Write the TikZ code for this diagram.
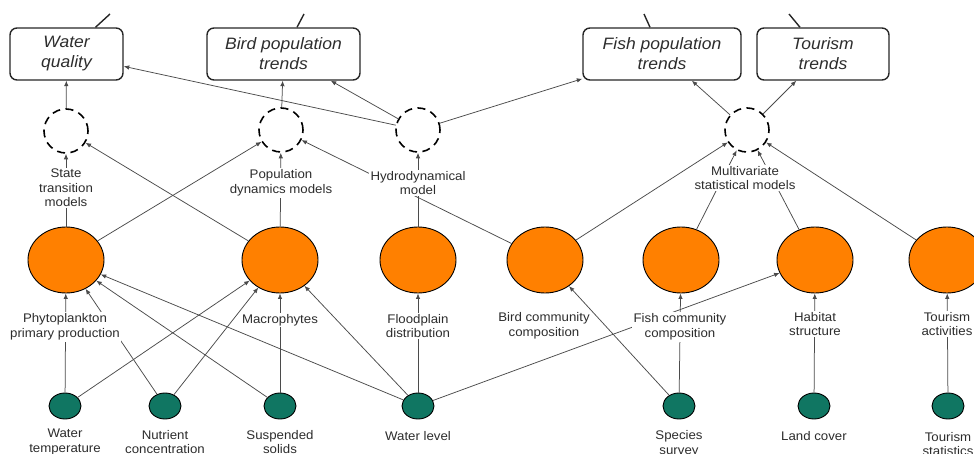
\documentclass[tikz,border=0pt]{standalone}
\usepackage{fontspec}
\setmainfont{Liberation Sans}[FakeStretch=1.06]
\usetikzlibrary{arrows.meta,shapes.geometric}
\definecolor{orng}{RGB}{255,128,0}
\definecolor{tealg}{RGB}{16,118,98}
\definecolor{edgegray}{RGB}{75,75,75}
\definecolor{txt}{RGB}{45,45,45}
\begin{document}
\begin{tikzpicture}[x=1pt,y=-1pt,
  trend/.style={draw=black!85,line width=1.4pt,rounded corners=7pt,minimum height=52pt,text=txt,font=\fontsize{16.5}{20}\selectfont\itshape,align=center,inner sep=0pt},
  model/.style={circle,draw=black,dash pattern=on 8pt off 5.5pt,line width=1.6pt,minimum size=44pt,inner sep=0pt},
  obs/.style={ellipse,draw=black,line width=0.9pt,fill=orng,minimum width=76pt,minimum height=66pt,inner sep=0pt},
  drv/.style={ellipse,draw=black,line width=0.9pt,fill=tealg,minimum width=32pt,minimum height=26pt,inner sep=0pt},
  lbl/.style={fill=white,align=center,text=txt,font=\fontsize{12.5}{14.5}\selectfont,inner sep=1.5pt},
  link/.style={draw=edgegray,line width=0.75pt},
  arr/.style={link,-{Latex[length=5.5pt,width=4.5pt]}},
  stub/.style={draw=black!85,line width=1.4pt}
]
\useasboundingbox (0,0) rectangle (974,454);

% trend boxes
\node[trend,minimum width=113pt] (wq) at (66.5,54) {Water\\quality};
\node[trend,minimum width=153pt] (bp) at (283.5,54) {Bird population\\trends};
\node[trend,minimum width=158pt] (fp) at (662,54) {Fish population\\trends};
\node[trend,minimum width=132pt] (tt) at (823,54) {Tourism\\trends};

% stubs going out of the top
\coordinate (wqu) at (110,14);
\coordinate (bpu) at (304,14);
\coordinate (fpu) at (644,14);
\coordinate (ttu) at (789,14);
\draw[stub] ([xshift=29pt]wq.north) -- (wqu);
\draw[stub] ([xshift=13.5pt]bp.north) -- (bpu);
\draw[stub] ([xshift=-12pt]fp.north) -- (fpu);
\draw[stub] ([xshift=-23pt]tt.north) -- (ttu);

% model circles
\node[model] (m1) at (66,131) {};
\node[model] (m2) at (281,130) {};
\node[model] (m3) at (418,130) {};
\node[model] (m4) at (747,130) {};

% observation ellipses
\node[obs] (o1) at (66,260) {};
\node[obs] (o2) at (280,260) {};
\node[obs] (o3) at (418,260) {};
\node[obs] (o4) at (545,260) {};
\node[obs] (o5) at (681,260) {};
\node[obs] (o6) at (815,260) {};
\node[obs] (o7) at (947,260) {};

% driver nodes
\node[drv] (g1) at (65,406) {};
\node[drv] (g2) at (165,406) {};
\node[drv] (g3) at (280,406) {};
\node[drv] (g4) at (418,406) {};
\node[drv] (g5) at (679,406) {};
\node[drv] (g6) at (814,406) {};
\node[drv] (g7) at (948,406) {};

% top level connectors
\draw[arr] (m1) -- (wq);
\draw[arr] (m3) -- (wq);
\draw[arr] (m2) -- (bp);
\draw[arr] (m3) -- (bp);
\draw[arr] (m3) -- (fp);
\draw[arr] (m4) -- (fp);
\draw[arr] (m4) -- (tt);

% middle connectors
\draw[arr] (o1) -- (m1);
\draw[arr] (o1) -- (m2);
\draw[arr] (o2) -- (m1);
\draw[arr] (o2) -- (m2);
\draw[arr] (o4) -- (m2);
\draw[arr] (o3) -- (m3);
\draw[arr] (o4) -- (m4);
\draw[arr] (o5) -- (m4);
\draw[arr] (o6) -- (m4);
\draw[arr] (o7) -- (m4);

% bottom connectors
\draw[arr] (g1) -- (o1);
\draw[arr] (g2) -- (o1);
\draw[arr] (g3) -- (o1);
\draw[arr] (g4) -- (o1);
\draw[arr] (g1) -- (o2);
\draw[arr] (g2) -- (o2);
\draw[arr] (g3) -- (o2);
\draw[arr] (g4) -- (o2);
\draw[arr] (g4) -- (o3);
\draw[arr] (g4) -- (o6);
\draw[arr] (g5) -- (o5);
\draw[arr] (g5) -- (o4);
\draw[arr] (g6) -- (o6);
\draw[arr] (g7) -- (o7);

% model labels
\node[lbl] (lstm) at (66,188) {State\\transition\\models};
\node[lbl] (lpdm) at (281,183) {Population\\dynamics models};
\node[lbl] (lhym) at (418,183) {Hydrodynamical\\model};
\node[lbl] (lmsm) at (745,178) {Multivariate\\statistical models};

% observation labels
\node[lbl] (lphy) at (65,327) {Phytoplankton\\primary production};
\node[lbl] (lmac) at (280,320) {Macrophytes};
\node[lbl] (lflo) at (418,326) {Floodplain\\distribution};
\node[lbl] (lbcc) at (544,326) {Bird community\\composition};
\node[lbl] (lfcc) at (680,327) {Fish community\\composition};
\node[lbl] (lhab) at (815,324) {Habitat\\structure};
\node[lbl] (ltac) at (947,324) {Tourism\\activities};

% driver labels
\node[lbl] (lwt) at (65,442) {Water\\temperature};
\node[lbl] (lnc) at (165,442) {Nutrient\\concentration};
\node[lbl] (lss) at (280,442) {Suspended\\solids};
\node[lbl] (lwl) at (418,436) {Water level};
\node[lbl] (lsp) at (679,444) {Species\\survey};
\node[lbl] (llc) at (814,436) {Land cover};
\node[lbl] (lts) at (948,444) {Tourism\\statistics};
\end{tikzpicture}
\end{document}
